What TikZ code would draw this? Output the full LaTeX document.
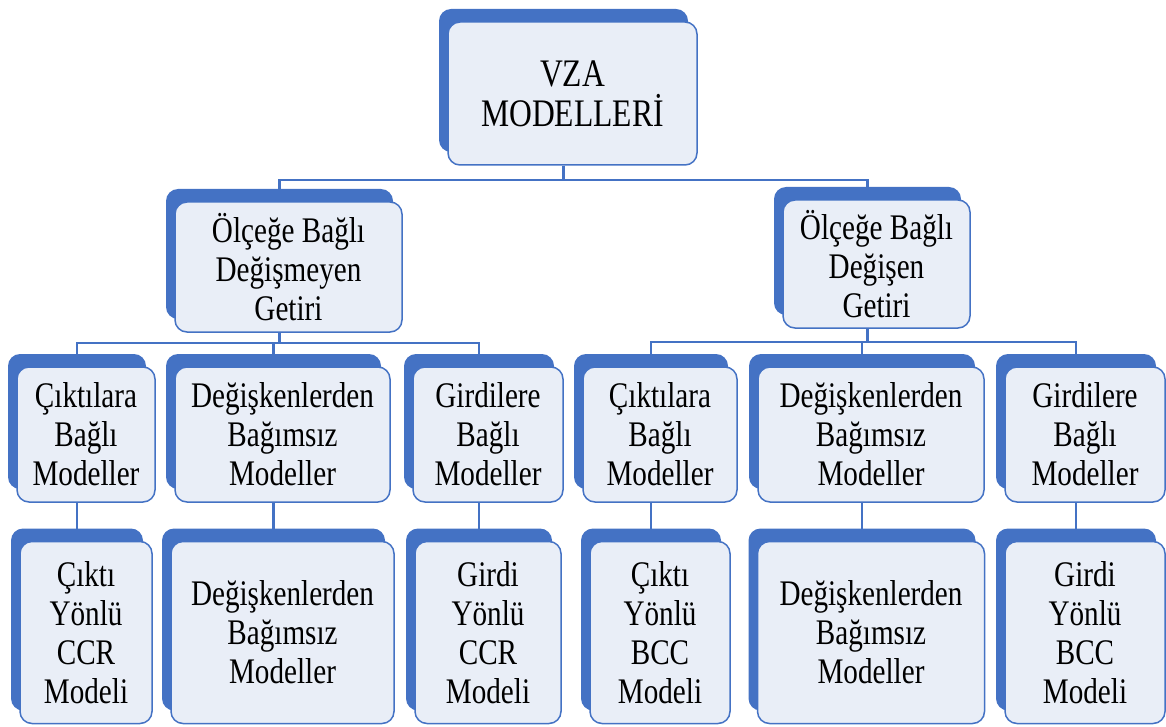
\documentclass[tikz,border=0pt]{standalone}
\usepackage{fontspec}
\setmainfont{Liberation Serif}[FakeStretch=0.81]
\usepackage{tikz}
\usetikzlibrary{positioning,shadows,backgrounds,calc}
\definecolor{vzablue}{RGB}{68,114,196}
\definecolor{vzafill}{RGB}{233,238,247}
\tikzset{
  kutu/.style={draw=vzablue, line width=1.5pt, fill=vzafill, rounded corners=12pt,
    align=center, inner sep=0pt,
    general shadow={fill=vzablue, shadow xshift=-9pt, shadow yshift=13pt},
    font=\fontsize{36}{39}\selectfont},
  baglanti/.style={draw=vzablue, line width=2.3pt}
}

\begin{document}
\begin{tikzpicture}[x=1pt,y=-1pt]
\useasboundingbox (0,0) rectangle (1166,727);
% ==========================================
\node[kutu, minimum width=249pt, minimum height=143pt, font=\fontsize{39}{40}\selectfont] (vza) at (572.5,93.5) {VZA\\MODELLERİ};
%
\node[kutu, minimum width=227pt, minimum height=130pt] (sabit) at (288.5,267) {Ölçeğe Bağlı\\Değişmeyen\\Getiri};
\node[kutu, minimum width=187pt, minimum height=128pt] (degisen) at (876.5,264) {Ölçeğe Bağlı\\Değişen\\Getiri};
%
\node[kutu, minimum width=138pt, minimum height=135pt] (ciktiA) at (86,434.5) {Çıktılara\\Bağlı\\Modeller};
\node[kutu, minimum width=215pt, minimum height=135pt] (degA) at (282.5,434.5) {Değişkenlerden\\Bağımsız\\Modeller};
\node[kutu, minimum width=150pt, minimum height=135pt] (girdiA) at (488,434.5) {Girdilere\\Bağlı\\Modeller};
\node[kutu, minimum width=154pt, minimum height=135pt] (ciktiB) at (660,434.5) {Çıktılara\\Bağlı\\Modeller};
\node[kutu, minimum width=226pt, minimum height=135pt] (degB) at (871,434.5) {Değişkenlerden\\Bağımsız\\Modeller};
\node[kutu, minimum width=160pt, minimum height=135pt] (girdiB) at (1085,434.5) {Girdilere\\Bağlı\\Modeller};
%
\node[kutu, minimum width=132pt, minimum height=182pt, below=38pt of ciktiA] (ccrA) {Çıktı\\Yönlü\\CCR\\Modeli};
\node[kutu, minimum width=223pt, minimum height=182pt, below=38pt of degA] (bagA) {Değişkenlerden\\Bağımsız\\Modeller};
\node[kutu, minimum width=146pt, minimum height=182pt, below=38pt of girdiA] (ccrB) {Girdi\\Yönlü\\CCR\\Modeli};
\node[kutu, minimum width=140pt, minimum height=182pt, below=38pt of ciktiB] (bccA) {Çıktı\\Yönlü\\BCC\\Modeli};
\node[kutu, minimum width=227pt, minimum height=182pt, below=38pt of degB] (bagB) {Değişkenlerden\\Bağımsız\\Modeller};
\node[kutu, minimum width=160pt, minimum height=182pt, below=38pt of girdiB] (bccB) {Girdi\\Yönlü\\BCC\\Modeli};
%
\begin{pgfonlayer}{background}
\draw[baglanti] ([xshift=-9pt]vza.south) -- ++(0,14) -| ([xshift=-9pt]sabit.north);
\draw[baglanti] ([xshift=-9pt]vza.south) -- ++(0,14) -| ([xshift=-9pt]degisen.north);
\foreach \alt in {ciktiA,degA,girdiA}
  \draw[baglanti] ([xshift=-9pt]sabit.south) -- ++(0,10) -| ([xshift=-9pt]\alt.north);
\foreach \alt in {ciktiB,degB,girdiB}
  \draw[baglanti] ([xshift=-9pt]degisen.south) -- ++(0,13) -| ([xshift=-9pt]\alt.north);
\foreach \ust/\alt in {ciktiA/ccrA,degA/bagA,girdiA/ccrB,ciktiB/bccA,degB/bagB,girdiB/bccB}
  \draw[baglanti] ([xshift=-9pt]\ust.south) -- ([xshift=-9pt]\alt.north);
\end{pgfonlayer}
% =============================================
\end{tikzpicture}
\end{document}
